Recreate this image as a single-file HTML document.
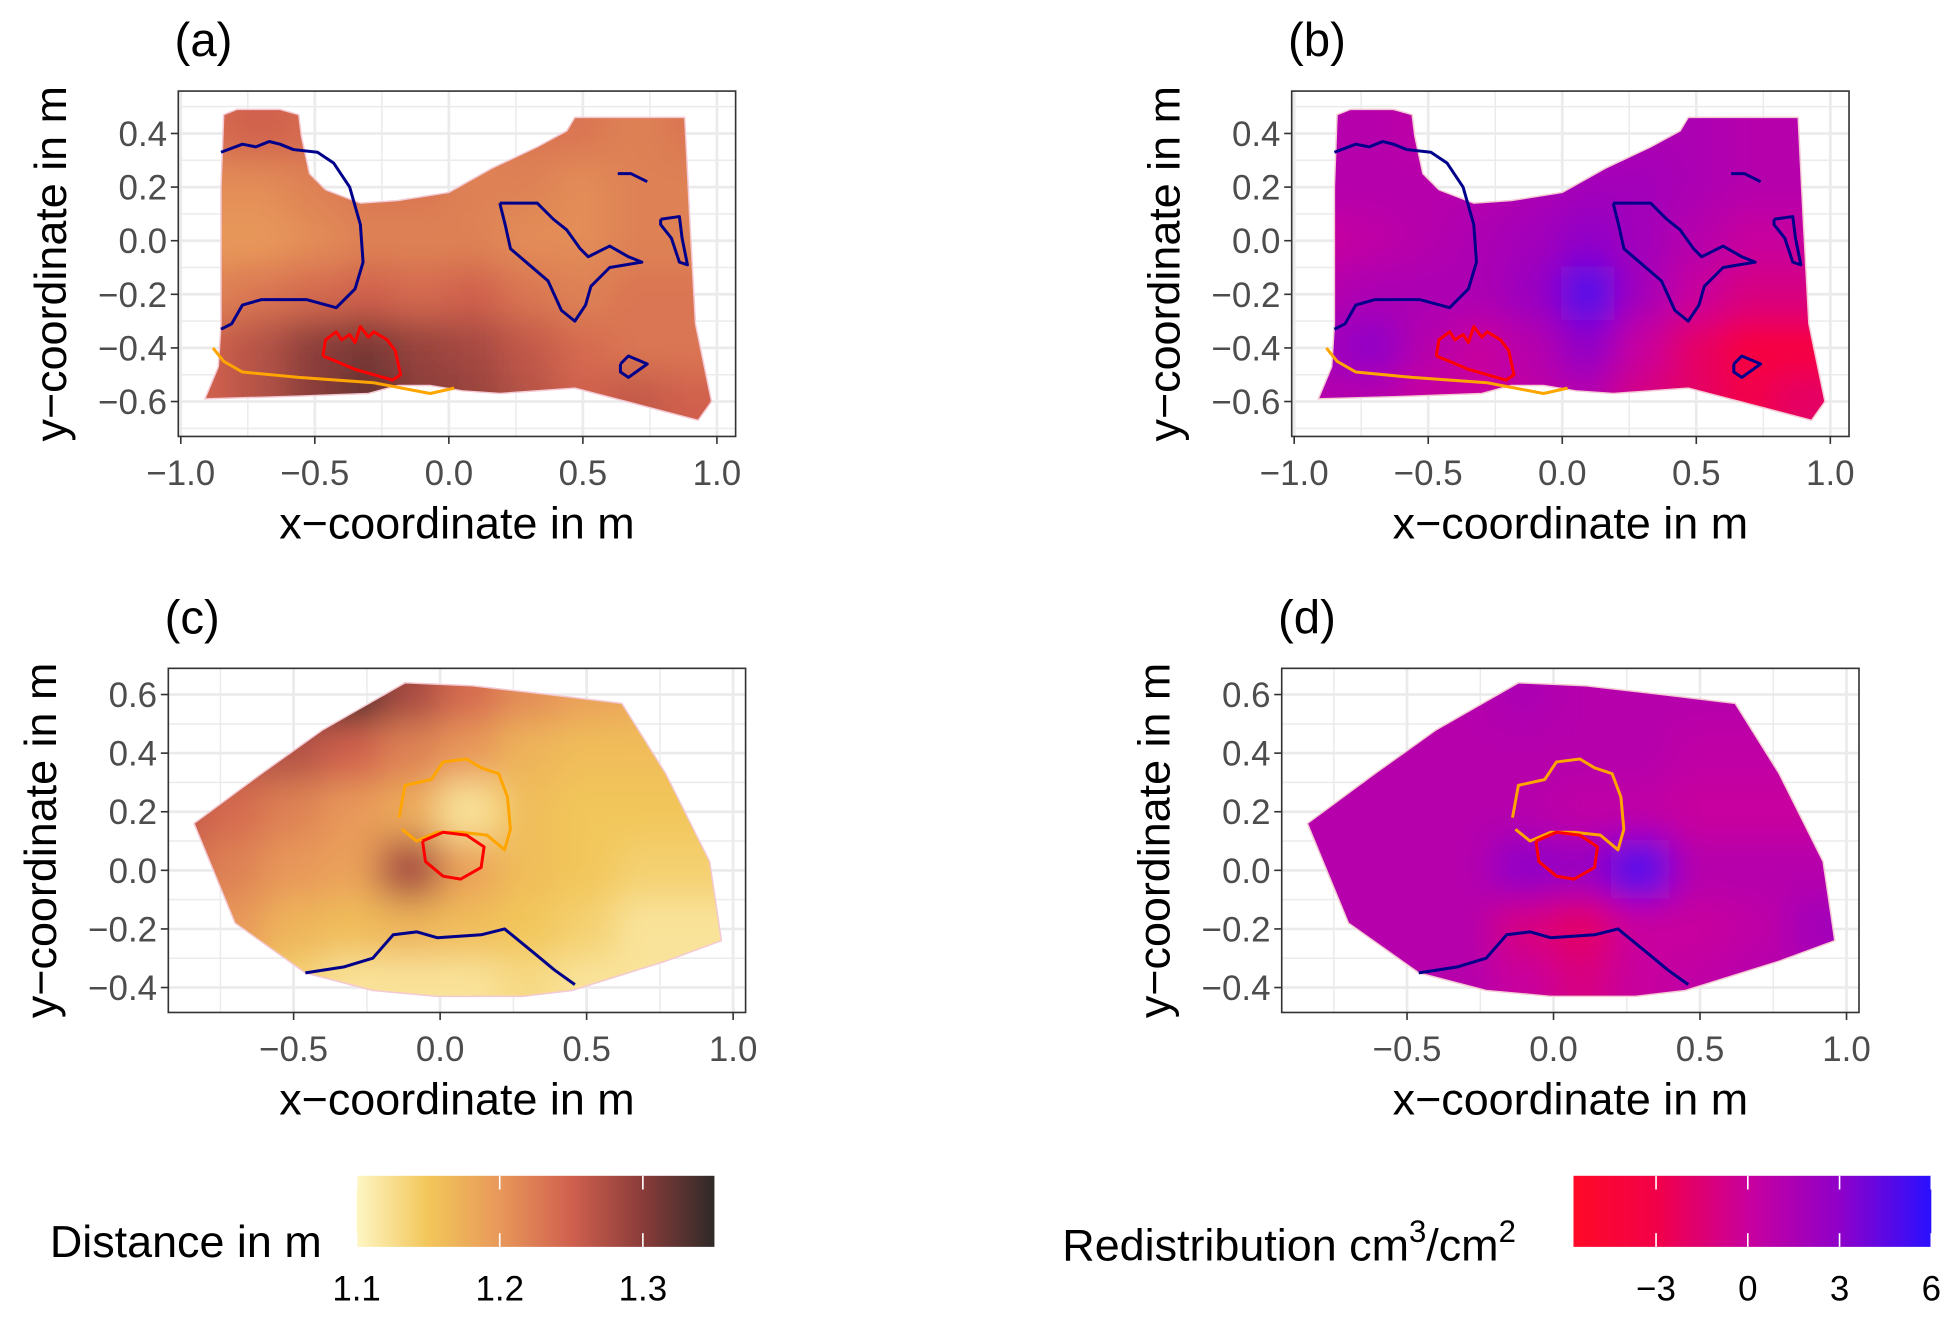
<!DOCTYPE html>
<html><head><meta charset="utf-8"><style>
html,body{margin:0;padding:0;background:#fff;}
svg{display:block;font-family:"Liberation Sans",Arial,sans-serif;}
</style></head><body>
<svg id="fig" width="1955" height="1318" viewBox="0 0 1568 1057" xmlns="http://www.w3.org/2000/svg">
<defs>
<filter id="blur" x="-20%" y="-20%" width="140%" height="140%"><feGaussianBlur stdDeviation="14"/></filter>
<linearGradient id="gradDist" x1="0" x2="1" y1="0" y2="0">
<stop offset="0" stop-color="#fef6c4"/><stop offset="0.2" stop-color="#f2c65a"/><stop offset="0.4" stop-color="#e8985a"/><stop offset="0.6" stop-color="#d0604e"/><stop offset="0.8" stop-color="#8a3c3a"/><stop offset="1" stop-color="#2e2a28"/>
</linearGradient>
<linearGradient id="gradRed" x1="0" x2="1" y1="0" y2="0">
<stop offset="0" stop-color="#ff0a28"/><stop offset="0.23" stop-color="#f20048"/><stop offset="0.49" stop-color="#c8009e"/><stop offset="0.74" stop-color="#9000c8"/><stop offset="1" stop-color="#2a10ff"/>
</linearGradient>
</defs>
</svg>
<script>
// ---- data ----
const gridXs = [-0.9,-0.7,-0.5,-0.3,-0.1,0.1,0.3,0.5,0.7,0.9];
const gridYsTop = [0.4,0.2,0.0,-0.2,-0.4,-0.6];
const gridYsBottom = [0.6,0.4,0.2,0.0,-0.2,-0.4];
const distA = [
[1.24,1.25,1.24,1.24,1.23,1.22,1.23,1.23,1.22,1.23],
[1.21,1.21,1.22,1.23,1.23,1.22,1.22,1.21,1.22,1.22],
[1.20,1.20,1.21,1.22,1.22,1.22,1.21,1.21,1.22,1.22],
[1.22,1.23,1.24,1.25,1.24,1.25,1.23,1.22,1.23,1.23],
[1.25,1.27,1.30,1.31,1.29,1.28,1.26,1.24,1.23,1.23],
[1.25,1.27,1.30,1.32,1.30,1.29,1.27,1.25,1.26,1.25]];
const redisB = [
[1,1,0.5,1,1,1,1.5,1.5,1,1],
[1,1,1,1,1.5,2,2,1.5,1,1],
[0,0.5,1,1.5,2,3,2,1,0,0],
[1,1.5,1.5,1.5,2.5,5,2,0,-1,-1],
[2,3,1,0,1,3,0,-2,-4,-4],
[1,1,0,0,0.5,1,-1,-2,-3,-2]];
const distC = [
[1.30,1.30,1.32,1.34,1.28,1.24,1.21,1.19,1.18,1.18],
[1.27,1.27,1.27,1.25,1.22,1.20,1.17,1.16,1.16,1.16],
[1.26,1.24,1.22,1.20,1.18,1.12,1.16,1.15,1.15,1.15],
[1.24,1.22,1.20,1.19,1.28,1.19,1.16,1.15,1.14,1.14],
[1.21,1.20,1.17,1.16,1.17,1.16,1.15,1.14,1.12,1.12],
[1.19,1.17,1.14,1.12,1.12,1.12,1.13,1.12,1.12,1.12]];
const redisD = [
[1,1,1,1,1.5,1,1,1,1,1],
[1,1,1,1,1,1,1,0.5,0.5,0.5],
[1,1,1,1,1,0.5,0.5,0,0,0],
[1,1,1,1,3,2.5,5,1,1,1],
[1,1,1,1,-1,-2,0,0,0.5,2],
[1,1,1,1,0,-1,0,0.5,1,1]];
const outlineTop = [[-0.84,0.47],[-0.79,0.49],[-0.63,0.49],[-0.56,0.47],[-0.55,0.39],[-0.52,0.25],[-0.46,0.19],[-0.33,0.14],[-0.19,0.15],[0,0.18],[0.16,0.27],[0.33,0.35],[0.44,0.41],[0.47,0.46],[0.88,0.46],[0.90,0.06],[0.92,-0.31],[0.98,-0.60],[0.93,-0.67],[0.47,-0.55],[0.19,-0.57],[0.05,-0.56],[-0.07,-0.54],[-0.19,-0.54],[-0.30,-0.57],[-0.56,-0.58],[-0.91,-0.59],[-0.86,-0.47],[-0.85,-0.31],[-0.85,0.20]];
const blueTop1 = [[-0.85,0.33],[-0.77,0.36],[-0.72,0.35],[-0.67,0.37],[-0.63,0.36],[-0.58,0.34],[-0.49,0.33],[-0.43,0.29],[-0.37,0.20],[-0.33,0.06],[-0.32,-0.08],[-0.35,-0.18],[-0.42,-0.25],[-0.53,-0.22],[-0.70,-0.22],[-0.77,-0.24],[-0.81,-0.31],[-0.85,-0.33]];
const blueTop2 = [[0.19,0.14],[0.33,0.14],[0.39,0.08],[0.44,0.04],[0.49,-0.03],[0.52,-0.06],[0.60,-0.02],[0.67,-0.06],[0.72,-0.08],[0.60,-0.10],[0.53,-0.17],[0.51,-0.24],[0.47,-0.30],[0.42,-0.26],[0.37,-0.15],[0.30,-0.09],[0.23,-0.03],[0.21,0.06],[0.19,0.14]];
const blueTop3 = [[0.79,0.08],[0.86,0.09],[0.87,0.01],[0.89,-0.09],[0.86,-0.08],[0.83,0.01],[0.79,0.06],[0.79,0.08]];
const blueTop4 = [[0.64,-0.46],[0.67,-0.43],[0.74,-0.46],[0.67,-0.51],[0.64,-0.49],[0.64,-0.46]];
const blueTop5 = [[0.63,0.25],[0.68,0.25],[0.74,0.22]];
const redTop = [[-0.47,-0.43],[-0.46,-0.37],[-0.42,-0.34],[-0.40,-0.37],[-0.37,-0.35],[-0.35,-0.38],[-0.33,-0.32],[-0.30,-0.36],[-0.28,-0.34],[-0.23,-0.37],[-0.20,-0.41],[-0.18,-0.50],[-0.21,-0.52],[-0.28,-0.50],[-0.35,-0.48],[-0.42,-0.45],[-0.47,-0.43]];
const orangeTop = [[-0.88,-0.40],[-0.84,-0.45],[-0.77,-0.49],[-0.56,-0.51],[-0.28,-0.53],[-0.07,-0.57],[0.02,-0.55]];
const outlineBottom = [[-0.84,0.16],[-0.61,0.33],[-0.40,0.48],[-0.12,0.64],[0.11,0.63],[0.37,0.60],[0.62,0.57],[0.77,0.33],[0.92,0.03],[0.96,-0.24],[0.77,-0.31],[0.45,-0.41],[0.28,-0.43],[-0.01,-0.43],[-0.23,-0.41],[-0.46,-0.35],[-0.70,-0.18]];
const orangeBottom = [[-0.14,0.18],[-0.12,0.29],[-0.03,0.31],[0.01,0.37],[0.09,0.38],[0.14,0.35],[0.20,0.33],[0.23,0.25],[0.24,0.14],[0.22,0.07],[0.16,0.12],[0.07,0.13],[-0.01,0.13],[-0.08,0.10],[-0.13,0.14]];
const redBottom = [[-0.06,0.10],[0.01,0.13],[0.09,0.12],[0.15,0.08],[0.14,0.01],[0.07,-0.03],[0.01,-0.02],[-0.05,0.03],[-0.06,0.10]];
const blueBottom = [[-0.46,-0.35],[-0.33,-0.33],[-0.23,-0.30],[-0.16,-0.22],[-0.08,-0.21],[-0.01,-0.23],[0.14,-0.22],[0.22,-0.20],[0.33,-0.29],[0.39,-0.34],[0.46,-0.39]];
const xTicksTop = [-1.0,-0.5,0.0,0.5,1.0];
const yTicksTop = [0.4,0.2,0.0,-0.2,-0.4,-0.6];
const xTicksBottom = [-0.5,0.0,0.5,1.0];
const yTicksBottom = [0.6,0.4,0.2,0.0,-0.2,-0.4];
const distTicks = [1.1,1.2,1.3];
const distDomain = [1.1,1.35];
const redisTicks = [-3,0,3,6];
const redisDomain = [-5.7,6];

// ---- helpers ----
const NS = "http://www.w3.org/2000/svg";
const svg = document.getElementById('fig');
function el(tag, attrs, parent){const e=document.createElementNS(NS,tag);for(const k in attrs)e.setAttribute(k,attrs[k]);(parent||svg).appendChild(e);return e;}
function hex(h){return [parseInt(h.slice(1,3),16),parseInt(h.slice(3,5),16),parseInt(h.slice(5,7),16)];}
function ramp(stops,cols,v){
  if(v<=stops[0])return cols[0];if(v>=stops[stops.length-1])return cols[cols.length-1];
  for(let i=0;i<stops.length-1;i++){if(v<=stops[i+1]){const t=(v-stops[i])/(stops[i+1]-stops[i]);const a=hex(cols[i]),b=hex(cols[i+1]);return 'rgb('+a.map((c,j)=>Math.round(c+(b[j]-c)*t)).join(',')+')';}}
}
const distColor = v=>ramp([1.1,1.15,1.2,1.25,1.3,1.35],['#fef6c4','#f2c65a','#e8985a','#d0604e','#8a3c3a','#2e2a28'],v);
const redisColor = v=>ramp([-5.7,-3,0,3,6],['#ff0a28','#f20048','#c8009e','#9000c8','#2a10ff'],v);
function fmt(v){return (v<0?'\u2212':'')+Math.abs(v).toFixed(1);}

function panel(cfg){
  const {id,box,x0,y0,sc,xTicks,yTicks,grid,gys,color,outline,lines,label} = cfg;
  const X=v=>x0+v*sc, Y=v=>y0-v*sc;
  const g=el('g',{});
  
  
  const gg=el('g',{},g);
  
  
  const dx=xTicks[1]-xTicks[0], dy=yTicks[0]-yTicks[1];
  for(let k=-4;k<=12;k++){const v=xTicks[0]+k*dx/2;const px=X(v);if(px>box[0]&&px<box[2])el('line',{x1:px,x2:px,y1:box[1],y2:box[3],stroke:'#ebebeb','stroke-width':k%2===0?2.2:1.2},gg);}
  for(let k=-4;k<=16;k++){const v=yTicks[yTicks.length-1]+k*dy/2;const py=Y(v);if(py>box[1]&&py<box[3])el('line',{y1:py,y2:py,x1:box[0],x2:box[2],stroke:'#ebebeb','stroke-width':k%2===0?2.2:1.2},gg);}
  const cid='clip-'+id;
  const cp=el('clipPath',{id:cid},svg.querySelector('defs'));
  el('polygon',{points:outline.map(p=>X(p[0])+','+Y(p[1])).join(' ')},cp);
  const outer=el('g',{'clip-path':'url(#'+cid+')'},g);
  
  
  const inner=el('g',{filter:'url(#blur)'},outer);
  const cw=(gridXs[1]-gridXs[0])*sc, ch=(gys[0]-gys[1])*sc;
  const nr=grid.length, nc=grid[0].length, pad=40;
  grid.forEach((row,ri)=>row.forEach((v,ci)=>{
    let x1=X(gridXs[ci])-cw/2-1, x2=X(gridXs[ci])+cw/2+1, y1=Y(gys[ri])-ch/2-1, y2=Y(gys[ri])+ch/2+1;
    if(ci===0)x1-=pad; if(ci===nc-1)x2+=pad; if(ri===0)y1-=pad; if(ri===nr-1)y2+=pad;
    const r=el('rect',{x:x1,y:y1,width:x2-x1,height:y2-y1,fill:color(v)},inner);
    
    
  }));
  const ol=el('polygon',{points:outline.map(p=>X(p[0])+','+Y(p[1])).join(' '),fill:'none',stroke:'#f3c9d3','stroke-width':1.2},g);
  
  
  lines.forEach(L=>{
    const p=el('polyline',{points:L.pts.map(p=>X(p[0])+','+Y(p[1])).join(' '),fill:'none',stroke:L.c,'stroke-width':2.4,'stroke-linejoin':'round'},g);
    
    
  });
  const fr=el('rect',{x:box[0],y:box[1],width:box[2]-box[0],height:box[3]-box[1],fill:'none',stroke:'#333','stroke-width':1.3},g);
  
  
  xTicks.forEach(v=>{const px=X(v);el('line',{x1:px,x2:px,y1:box[3],y2:box[3]+6,stroke:'#333','stroke-width':1.3},g);
    const t=el('text',{x:px,y:box[3]+39,'font-size':28,fill:'#4d4d4d','text-anchor':'middle'},g);t.textContent=fmt(v);
    
    });
  yTicks.forEach(v=>{const py=Y(v);el('line',{x1:box[0]-6,x2:box[0],y1:py,y2:py,stroke:'#333','stroke-width':1.3},g);
    const t=el('text',{x:box[0]-9,y:py+10,'font-size':28,fill:'#4d4d4d','text-anchor':'end'},g);t.textContent=fmt(v);
    
    });
  const xt=el('text',{x:(box[0]+box[2])/2,y:box[3]+82,'font-size':36,fill:'#000','text-anchor':'middle'},g);xt.textContent='x\u2212coordinate in m';
  
  
  const cy=(box[1]+box[3])/2, tx=box[0]-90;
  const yt=el('text',{x:tx,y:cy,'font-size':36,fill:'#000','text-anchor':'middle',transform:'rotate(-90 '+tx+' '+cy+')'},g);yt.textContent='y\u2212coordinate in m';
  
  
  const tl=el('text',{x:box[0]-3,y:box[1]-28,'font-size':38,fill:'#000'},g);tl.textContent=label;
  
  
}
const topLines=[{pts:orangeTop,c:'#ffa500'},{pts:blueTop1,c:'#00008b'},{pts:blueTop2,c:'#00008b'},{pts:blueTop3,c:'#00008b'},{pts:blueTop4,c:'#00008b'},{pts:blueTop5,c:'#00008b'},{pts:redTop,c:'#ff0000'}];
const botLines=[{pts:orangeBottom,c:'#ffa500'},{pts:redBottom,c:'#ff0000'},{pts:blueBottom,c:'#00008b'}];
panel({id:'panel-a',box:[143,73,590,350],x0:360,y0:193,sc:215,xTicks:xTicksTop,yTicks:yTicksTop,grid:distA,gys:gridYsTop,color:distColor,outline:outlineTop,lines:topLines,label:'(a)'});
panel({id:'panel-b',box:[1036,73,1483,350],x0:1253,y0:193,sc:215,xTicks:xTicksTop,yTicks:yTicksTop,grid:redisB,gys:gridYsTop,color:redisColor,outline:outlineTop,lines:topLines,label:'(b)'});
panel({id:'panel-c',box:[135,536,598,812],x0:353,y0:698,sc:235,xTicks:xTicksBottom,yTicks:yTicksBottom,grid:distC,gys:gridYsBottom,color:distColor,outline:outlineBottom,lines:botLines,label:'(c)'});
panel({id:'panel-d',box:[1028,536,1491,812],x0:1246,y0:698,sc:235,xTicks:xTicksBottom,yTicks:yTicksBottom,grid:redisD,gys:gridYsBottom,color:redisColor,outline:outlineBottom,lines:botLines,label:'(d)'});

function legend(cfg){
  const {id,x,w,grad,domain,ticks,fmtT} = cfg;
  const g=el('g',{});
  
  
  const r=el('rect',{x:x,y:943,width:w,height:57,fill:'url(#'+grad+')'},g);
  
  
  const S=v=>x+(v-domain[0])/(domain[1]-domain[0])*w;
  ticks.forEach(v=>{const px=S(v);
    el('line',{x1:px,x2:px,y1:943,y2:954,stroke:'#fff','stroke-width':1.3},g);
    el('line',{x1:px,x2:px,y1:989,y2:1000,stroke:'#fff','stroke-width':1.3},g);
    const t=el('text',{x:px,y:1043,'font-size':28,fill:'#000','text-anchor':'middle'},g);t.textContent=fmtT(v);
    
    });
}
legend({id:'distance-legend',x:286,w:287,grad:'gradDist',domain:distDomain,ticks:distTicks,fmtT:v=>v.toFixed(1)});
legend({id:'redistribution-legend',x:1262,w:287,grad:'gradRed',domain:redisDomain,ticks:redisTicks,fmtT:v=>(v<0?'\u2212':'')+Math.abs(v)});
const dl=el('text',{x:40,y:1008,'font-size':36,fill:'#000'});dl.textContent='Distance in m';


const rl=el('text',{x:852,y:1011,'font-size':36,fill:'#000'});


rl.innerHTML='Redistribution cm<tspan dy="-15" font-size="25">3</tspan><tspan dy="15">/cm</tspan><tspan dy="-15" font-size="25">2</tspan>';
</script>
</body></html>
